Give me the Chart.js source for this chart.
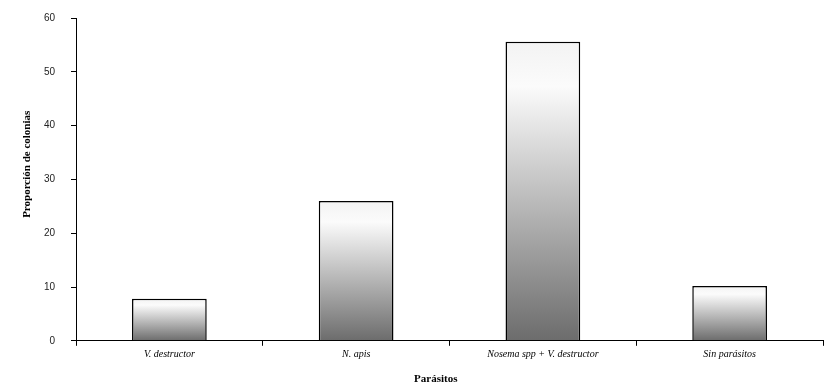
<!DOCTYPE html>
<html>
<head>
<meta charset="utf-8">
<script src="https://cdn.jsdelivr.net/npm/chart.js@4"></script>
<style>
  html, body { margin: 0; padding: 0; background: #fff; }
  #wrap { width: 834px; height: 388px; }
</style>
</head>
<body>
<div id="wrap"><canvas id="parasitos-chart"></canvas></div>
<script>
// datos
const categorias = ['V. destructor', 'N. apis', 'Nosema spp + V. destructor', 'Sin parásitos'];
const proporcion = [7.8, 26, 55.6, 10.2];
const ticksY = [0, 10, 20, 30, 40, 50, 60];

// degradado blanco -> gris en cada barra
function degradado(context) {
    const chart = context.chart;
    if (!chart.chartArea || context.raw === undefined) return 'rgba(0,0,0,0)';
    const y = chart.scales.y;
    const top = y.getPixelForValue(context.raw);
    const bottom = y.getPixelForValue(0);
    const g = chart.ctx.createLinearGradient(0, top, 0, bottom);
    g.addColorStop(0, '#f3f3f3');
    g.addColorStop(0.15, '#fbfbfb');
    g.addColorStop(1, '#6c6c6c');
    return g;
}

// los títulos no están centrados en el original, se desplazan con espacios
const tituloX = 'Parásitos' + ' '.repeat(10);
const tituloY = ' '.repeat(11) + 'Proporción de colonias';

const ctx = document.getElementById('parasitos-chart').getContext('2d');
new Chart(ctx, {
    type: 'bar',
    data: {
        labels: categorias,
        datasets: [{
            data: proporcion,
            backgroundColor: degradado,
            borderColor: '#000',
            borderWidth: 1.5,
            borderSkipped: 'bottom',
            barPercentage: 0.4,
            categoryPercentage: 1
        }]
    },
    options: {
        responsive: true,
        maintainAspectRatio: false,
        animation: false,
        layout: { padding: { top: 18, right: 11, left: 0, bottom: 0 } },
        plugins: {
            legend: { display: false },
            tooltip: { enabled: false }
        },
        scales: {
            x: {
                grid: {
                    offset: true,
                    drawOnChartArea: false,
                    drawTicks: true,
                    tickLength: 5,
                    color: '#000'
                },
                border: { display: true, color: '#000', width: 1 },
                ticks: {
                    padding: 3,
                    color: '#000',
                    maxRotation: 0,
                    font: { family: '"Liberation Serif", "Times New Roman", serif', style: 'italic', size: 10 }
                },
                title: {
                    display: true,
                    text: tituloX,
                    color: '#000',
                    padding: { top: 9, bottom: 2 },
                    font: { family: '"Liberation Serif", "Times New Roman", serif', weight: 'bold', size: 11 }
                }
            },
            y: {
                min: 0,
                max: 60,
                afterFit: (scale) => {
                    scale.width = 76;
                    scale.paddingTop = 0;
                    scale.paddingBottom = 0;
                },
                afterBuildTicks: (scale) => { scale.ticks = ticksY.map(v => ({ value: v })); },
                grid: {
                    drawOnChartArea: false,
                    drawTicks: true,
                    tickLength: 5,
                    color: '#000'
                },
                border: { display: true, color: '#000', width: 1 },
                ticks: {
                    padding: 16,
                    color: '#222',
                    font: { family: '"Liberation Sans", Arial, sans-serif', size: 10 }
                },
                title: {
                    display: true,
                    text: tituloY,
                    color: '#000',
                    padding: { top: 21, bottom: 0 },
                    font: { family: '"Liberation Serif", "Times New Roman", serif', weight: 'bold', size: 11 }
                }
            }
        }
    }
});
</script>
</body>
</html>
